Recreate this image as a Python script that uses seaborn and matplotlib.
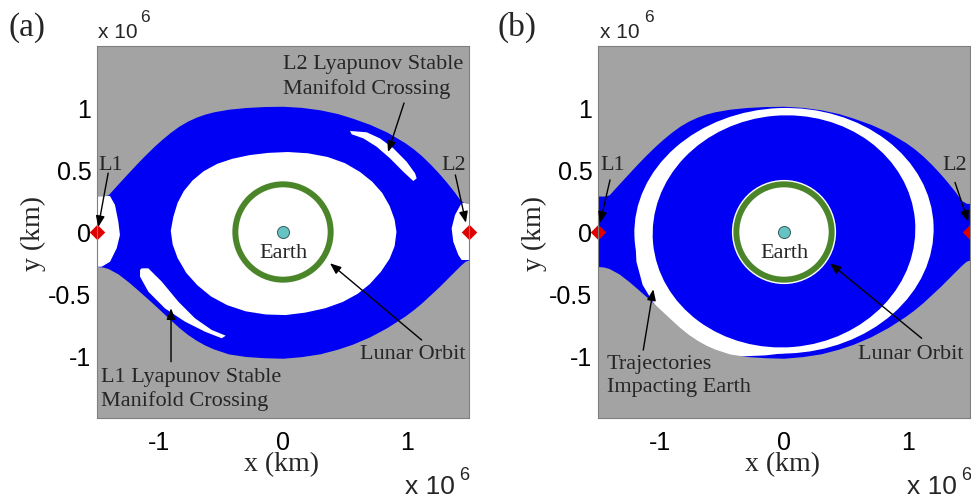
import numpy as np
import matplotlib
matplotlib.use("Agg")
import matplotlib.pyplot as plt
from matplotlib.patches import Circle, Ellipse
import seaborn as sns

# Units: 10^6 km, Earth-centred rotating frame
X_LIM = (-1.5, 1.5)
Y_LIM = (-1.5, 1.5)
X_TICKS = [-1, 0, 1]
X_TICK_LABELS = ["-1", "0", "1"]
Y_TICKS = [-1, -0.5, 0, 0.5, 1]
Y_TICK_LABELS = ["-1", "-0.5", "0", "0.5", "1"]

# Zero-velocity boundary of the allowed region
ZVC_X = [-1.5, -1.45, -1.41, -1.33, -1.25, -1.18, -1.11, -1.04, -0.98, -0.91,
         -0.84, -0.77, -0.70, -0.63, -0.56, -0.44, -0.30, -0.15, 0.0,
         0.15, 0.30, 0.44, 0.56, 0.70, 0.84, 0.98, 1.05, 1.12, 1.19,
         1.26, 1.32, 1.38, 1.43, 1.47, 1.5]
ZVC_TOP = [0.29, 0.29, 0.30, 0.388, 0.475, 0.55, 0.622, 0.69, 0.744, 0.802,
           0.853, 0.894, 0.926, 0.951, 0.969, 0.99, 1.004, 1.012, 1.014,
           1.005, 0.985, 0.955, 0.918, 0.868, 0.805, 0.722, 0.672, 0.613, 0.545,
           0.47, 0.40, 0.325, 0.255, 0.232, 0.23]
ZVC_BOTTOM = [-0.278, -0.283, -0.295, -0.338, -0.40, -0.46, -0.522, -0.585, -0.641, -0.706,
              -0.77, -0.826, -0.873, -0.912, -0.943, -0.983, -1.004, -1.014, -1.018,
              -1.005, -0.982, -0.945, -0.905, -0.845, -0.77, -0.68, -0.628, -0.57, -0.505,
              -0.44, -0.38, -0.32, -0.27, -0.235, -0.226]

# (a) regions that do not impact Earth
EYE_X = [-0.905, -0.885, -0.85, -0.80, -0.73, -0.64, -0.53, -0.41, -0.27, -0.12, 0.04, 0.20,
         0.36, 0.50, 0.62, 0.72, 0.80, 0.86, 0.90, 0.915, 0.90, 0.86, 0.79, 0.70, 0.60,
         0.48, 0.34, 0.18, 0.02, -0.14, -0.30, -0.45, -0.58, -0.69, -0.78, -0.85, -0.89]
EYE_Y = [0.01, 0.12, 0.235, 0.33, 0.415, 0.49, 0.55, 0.59, 0.62, 0.638, 0.645, 0.635,
         0.605, 0.555, 0.485, 0.405, 0.315, 0.21, 0.10, 0.0, -0.115, -0.215, -0.32, -0.42, -0.50,
         -0.565, -0.615, -0.65, -0.67, -0.665, -0.64, -0.59, -0.52, -0.43, -0.33, -0.21, -0.10]

L1_NECK_X = [-1.5, -1.395, -1.355, -1.328, -1.315, -1.341, -1.395, -1.462, -1.5]
L1_NECK_Y = [0.29, 0.29, 0.218, 0.083, -0.024, -0.131, -0.24, -0.28, -0.28]
L2_NECK_X = [1.5, 1.441, 1.387, 1.36, 1.373, 1.414, 1.441, 1.5]
L2_NECK_Y = [0.235, 0.235, 0.137, 0.03, -0.078, -0.185, -0.226, -0.226]

L2_MANIFOLD_X = [0.540, 0.675, 0.782, 0.890, 0.997, 1.065, 1.078, 1.051, 0.970, 0.863, 0.755, 0.648, 0.554]
L2_MANIFOLD_Y = [0.815, 0.804, 0.755, 0.675, 0.567, 0.473, 0.433, 0.411, 0.486, 0.594, 0.688, 0.755, 0.788]
L1_MANIFOLD_X = [-1.14, -1.086, -0.978, -0.844, -0.71, -0.575, -0.462, -0.494, -0.629, -0.79, -0.952, -1.086, -1.153, -1.153]
L1_MANIFOLD_Y = [-0.293, -0.293, -0.40, -0.562, -0.696, -0.79, -0.836, -0.857, -0.804, -0.723, -0.616, -0.481, -0.36, -0.306]

# (b) ring of trajectories impacting Earth: outer and inner edges
RING_OUTER_CENTER = (0.0, 0.01)
RING_OUTER_AXES = (2.414, 1.98)
RING_OUTER_ANGLE = 2.0
RING_INNER_CENTER = (0.0, 0.005)
RING_INNER_AXES = (2.12, 1.87)
RING_INNER_ANGLE = 5.0
# lower-left part of the ring running along the zero-velocity boundary
RING_SKIRT_X = [-1.20, -1.19, -1.14, -1.059, -0.978, -0.817, -0.629, -0.387, -0.15, 0.05,
                -0.3, -0.7, -0.95]
RING_SKIRT_Y = [-0.05, -0.24, -0.427, -0.562, -0.669, -0.831, -0.938, -1.005, -0.995, -0.972,
                -0.8, -0.5, -0.2]
INNER_DISK_RADIUS = 0.42

LUNAR_ORBIT_RADIUS = 0.3844
LAGRANGE_X = [-1.5, 1.5]
LAGRANGE_Y = [0.0, 0.0]
EARTH_X = [0.0]
EARTH_Y = [0.0]

GRAY = "#a3a3a3"
BLUE = "#0000f4"
GREEN = "#4b852a"
EARTH_C = "#66c3c3"
RED = "#e00000"

sns.set_theme(style="white")
plt.rcParams["axes.unicode_minus"] = False
SERIF = "Liberation Serif"
SANS = "Liberation Sans"

W, H = 971, 500
fig = plt.figure(figsize=(W / 100, H / 100), dpi=100)
ax_a = fig.add_axes([97 / W, 82 / H, 372 / W, 372 / H])
ax_b = fig.add_axes([598 / W, 82 / H, 372 / W, 372 / H])


def fig_text(px, py, s, **kw):
    fig.text(px / W, 1 - py / H, s, **kw)


def base_panel(ax):
    ax.set_facecolor(BLUE)
    ax.set_xlim(*X_LIM)
    ax.set_ylim(*Y_LIM)


def finish_panel(ax):
    # forbidden region outside the zero-velocity curve
    ax.fill_between(ZVC_X, ZVC_TOP, Y_LIM[1], color=GRAY, lw=0, zorder=5)
    ax.fill_between(ZVC_X, Y_LIM[0], ZVC_BOTTOM, color=GRAY, lw=0, zorder=5)
    ax.add_patch(Circle((0, 0), LUNAR_ORBIT_RADIUS, fill=False, ec=GREEN, lw=4.3, zorder=6))
    sns.scatterplot(x=EARTH_X, y=EARTH_Y, ax=ax, s=75, color=EARTH_C, edgecolor="#3a5a5a",
                    linewidth=0.7, zorder=7, legend=False)
    pts = ax.scatter(LAGRANGE_X, LAGRANGE_Y, marker="D", s=62, color=RED, lw=0, zorder=8)
    pts.set_clip_on(False)
    ax.set_xticks(X_TICKS)
    ax.set_xticklabels(X_TICK_LABELS, fontfamily=SANS, fontsize=18)
    ax.set_yticks(Y_TICKS)
    ax.set_yticklabels(Y_TICK_LABELS, fontfamily=SANS, fontsize=18)
    ax.tick_params(axis="x", length=0, pad=9, colors="black")
    ax.tick_params(axis="y", length=0, pad=4, colors="black")
    for s in ax.spines.values():
        s.set_color("#7f7f7f")
        s.set_linewidth(0.8)
        s.set_zorder(9)
    ax.text(0.497, -0.126, "x (km)", transform=ax.transAxes, ha="center", va="center",
            fontfamily=SERIF, fontsize=20)
    ax.text(-0.172, 0.495, "y (km)", transform=ax.transAxes, ha="center", va="center",
            rotation=90, fontfamily=SERIF, fontsize=20)
    ax.text(0.0, -0.17, "Earth", ha="center", va="center", fontfamily=SERIF, fontsize=16, zorder=10)


def arrow(ax, tip, start):
    ax.annotate("", xy=tip, xytext=start,
                arrowprops=dict(arrowstyle="-|>,head_length=0.55,head_width=0.22", color="black",
                                lw=1.0, shrinkA=0, shrinkB=0, mutation_scale=12),
                zorder=11, annotation_clip=False)


def note(ax, x, y, s):
    ax.text(x, y, s, ha="left", va="center", fontfamily=SERIF, fontsize=16,
            linespacing=1.3, zorder=10)


def label(ax, x, y, s):
    ax.text(x, y, s, ha="center", va="center", fontfamily=SERIF, fontsize=16, zorder=10)


# ---- (a) ----
base_panel(ax_a)
for xs, ys in [(EYE_X, EYE_Y), (L1_NECK_X, L1_NECK_Y), (L2_NECK_X, L2_NECK_Y),
               (L2_MANIFOLD_X, L2_MANIFOLD_Y), (L1_MANIFOLD_X, L1_MANIFOLD_Y)]:
    ax_a.fill(xs, ys, color="white", lw=0, zorder=2)
finish_panel(ax_a)

note(ax_a, 0.0, 1.25, "L2 Lyapunov Stable\nManifold Crossing")
arrow(ax_a, (0.847, 0.645), (0.976, 1.04))
note(ax_a, -1.47, -1.268, "L1 Lyapunov Stable\nManifold Crossing")
arrow(ax_a, (-0.903, -0.615), (-0.903, -1.046))
note(ax_a, 0.62, -0.99, "Lunar Orbit")
arrow(ax_a, (0.379, -0.252), (1.118, -0.871))
label(ax_a, -1.387, 0.54, "L1")
arrow(ax_a, (-1.49, 0.04), (-1.41, 0.475))
label(ax_a, 1.379, 0.54, "L2")
arrow(ax_a, (1.475, 0.075), (1.39, 0.46))

# ---- (b) ----
base_panel(ax_b)
ax_b.add_patch(Ellipse(RING_OUTER_CENTER, *RING_OUTER_AXES, angle=RING_OUTER_ANGLE,
                       color="white", lw=0, zorder=2))
ax_b.fill(RING_SKIRT_X, RING_SKIRT_Y, color="white", lw=0, zorder=2)
ax_b.add_patch(Ellipse(RING_INNER_CENTER, *RING_INNER_AXES, angle=RING_INNER_ANGLE,
                       color=BLUE, lw=0, zorder=3))
ax_b.add_patch(Circle((0, 0), INNER_DISK_RADIUS, color="white", lw=0, zorder=4))
finish_panel(ax_b)

note(ax_b, -1.43, -1.16, "Trajectories\nImpacting Earth")
arrow(ax_b, (-1.054, -0.462), (-1.135, -0.952))
note(ax_b, 0.597, -0.984, "Lunar Orbit")
arrow(ax_b, (0.371, -0.252), (1.11, -0.857))
label(ax_b, -1.38, 0.54, "L1")
arrow(ax_b, (-1.484, 0.073), (-1.403, 0.42))
label(ax_b, 1.379, 0.54, "L2")
arrow(ax_b, (1.486, 0.083), (1.379, 0.40))

# panel letters and the 10^6 scale markers
fig_text(26.7, 27.5, "(a)", ha="center", va="center", fontfamily=SERIF, fontsize=24)
fig_text(516.7, 27.5, "(b)", ha="center", va="center", fontfamily=SERIF, fontsize=24)
for left, sup in [(98, 140), (600, 644)]:
    fig_text(left, 38.5, "x 10", ha="left", va="baseline", fontfamily=SANS, fontsize=15)
    fig_text(sup, 22.5, "6", ha="left", va="baseline", fontfamily=SANS, fontsize=12.5)
for left, sup in [(405, 459), (907, 961)]:
    fig_text(left, 494, "x 10", ha="left", va="baseline", fontfamily=SANS, fontsize=19)
    fig_text(sup, 480, "6", ha="left", va="baseline", fontfamily=SANS, fontsize=13)

fig.savefig("out.png", dpi=100)
